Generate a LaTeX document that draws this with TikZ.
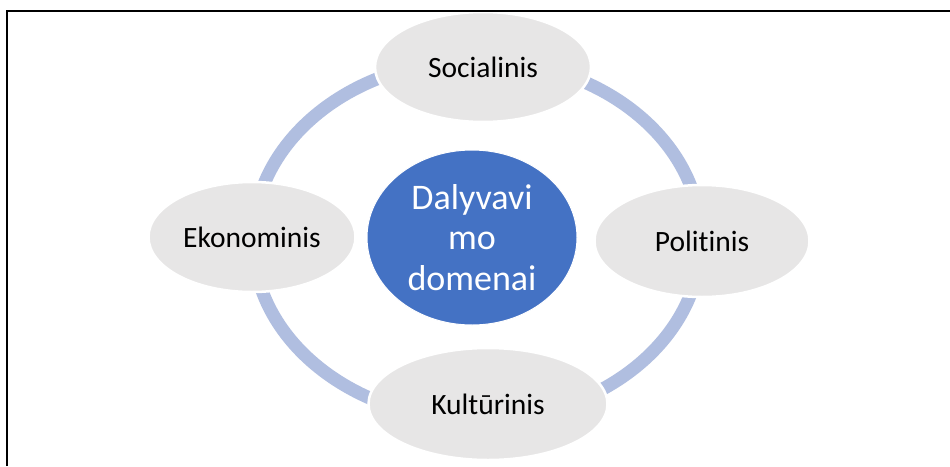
\documentclass[tikz,border=0pt]{standalone}
\usepackage{fontspec}
\setmainfont{Carlito}[Ligatures={NoCommon}]
\usetikzlibrary{shapes.geometric}
\definecolor{ringblue}{RGB}{176,190,224}
\definecolor{domblue}{RGB}{68,114,196}
\definecolor{domgray}{RGB}{231,230,230}

\begin{document}
\begin{tikzpicture}
   [x=1pt,y=-1pt,
    domain node/.style={ellipse, fill=domgray, draw=white, line width=2.5pt, inner sep=0pt,
           font=\fontsize{29.5}{35}\selectfont},
    core node/.style={ellipse, fill=domblue, draw=white, line width=1pt, text=white,
           align=center, inner sep=0pt, minimum width=210pt, minimum height=175pt,
           font=\fontsize{36}{40.5}\selectfont}]
\useasboundingbox (0,0) rectangle (950,466);
\fill[white] (0,0) rectangle (950,466);

\coordinate (ringC) at (477,240);
\draw[ringblue, line width=13pt] (ringC) ellipse [x radius=224, y radius=180];

\node[domain node, minimum width=216pt, minimum height=110pt] (social) at (483,67) {Socialinis};
\node[domain node, minimum width=215pt, minimum height=112pt] (polit) at (702,241) {Politinis};
\node[domain node, minimum width=239pt, minimum height=112pt] (kult) at (488,404) {Kultūrinis};
\node[domain node, minimum width=207pt, minimum height=110pt] (ekon) at (252,237) {Ekonominis};

\node[core node] (core) at (472,237.5) {Dalyvavi\\mo\\domenai};

\draw[line width=2pt] (7,466) -- (7,11) -- (950,11);
\end{tikzpicture}
\end{document}
